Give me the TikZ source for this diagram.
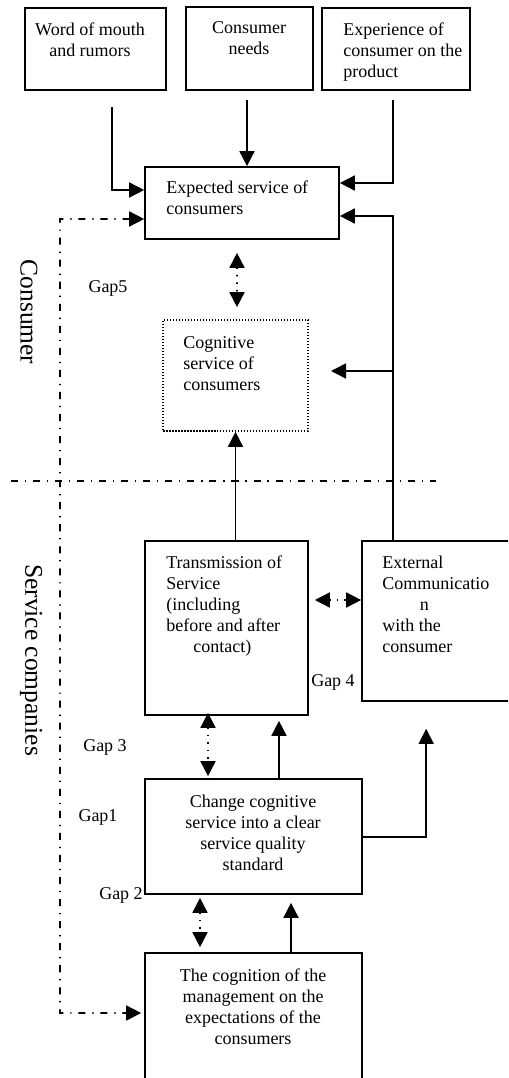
\documentclass[tikz,border=0pt]{standalone}
\usepackage{fontspec}
\setmainfont{Liberation Serif}
\usetikzlibrary{arrows.meta,fit,calc}
\begin{document}
\begin{tikzpicture}[x=0.6667pt,y=-0.6667pt,
  box/.style={draw, line width=1.1pt, inner sep=0pt},
  dotbox/.style={draw, line width=1.1pt, inner sep=0pt, dash pattern=on 1pt off 1pt},
  txt/.style={font=\fontsize{12}{14}\selectfont, inner sep=0pt},
  side/.style={font=\fontsize{17}{20}\selectfont, inner sep=0pt, rotate=-90},
  tip/.tip={Triangle[length=10pt,width=10pt]},
  conn/.style={line width=1.1pt, -tip},
  dbl/.style={line width=1.1pt, dash pattern=on 1pt off 4pt, tip-tip},
  dd/.style={line width=1.1pt, dash pattern=on 4.7pt off 4.6pt on 0.8pt off 4.6pt},
]
\fill[white] (0,0) rectangle (508,1078);
\useasboundingbox (0,0) rectangle (508,1078);
\clip (0,0) rectangle (508,1078);

% boxes
\node[box, fit={(25,8) (166,90)}] (wom) {};
\node[box, fit={(186,7) (313,90)}] (needs) {};
\node[box, fit={(322,8) (470,90)}] (expr) {};
\node[box, fit={(145,167) (339,239)}] (exp) {};
\node[dotbox, fit={(163,320) (308,431)}] (cog) {};
\node[box, fit={(145,541) (308,715)}] (trans) {};
\node[box, fit={(362,541) (540,701)}] (ext) {};
\node[box, fit={(145,779) (362,894)}] (chg) {};
\node[box, fit={(145,953) (362,1110)}] (mgmt) {};

% texts
\node[txt, anchor=north, align=center] (womT) at (90,20.3) {\strut Word of mouth\\and rumors};
\node[txt, anchor=north, align=center] (needsT) at (249,18.3) {\strut Consumer\\needs};
\node[txt, anchor=north west, align=left] (exprT) at (343,20.3) {\strut Experience of\\consumer on the\\product};
\node[txt, anchor=north west, align=left] (expT) at (166,178.3) {\strut Expected service of\\consumers};
\node[txt, anchor=north west, align=left] (cogT) at (183,333.3) {\strut Cognitive\\service of\\consumers};
\node[txt, anchor=north west, align=left] (transT) at (166,553.3) {\strut Transmission of\\Service\\(including\\before and after\\\hspace*{18pt}contact)};
\node[txt, anchor=north west, align=left] (extT) at (382,553.3) {\strut External\\Communicatio\\\hspace*{25pt}n\\with the\\consumer};
\node[txt, anchor=north, align=center] (chgT) at (253,792.3) {\strut Change cognitive\\service into a clear\\service quality\\standard};
\node[txt, anchor=north, align=center] (mgmtT) at (253,966.3) {\strut The cognition of the\\management on the\\expectations of the\\consumers};

% gap labels
\node[txt] (g5) at (108,288) {Gap5};
\node[txt] (g4) at (333,682) {Gap 4};
\node[txt] (g3) at (105,747) {Gap 3};
\node[txt] (g1) at (98,817) {Gap1};
\node[txt] (g2) at (121,895) {Gap 2};

% side labels
\node[side] (consL) at (29,312) {Consumer};
\node[side] (servL) at (31,660) {Service companies};

% divider
\coordinate (divL) at (11,481);
\coordinate (divR) at (436,481);
\draw[dd] (divL) -- (divR);

% connectors
\coordinate (womO) at (112,107);
\draw[conn] (womO) |- ($(exp.west)+(0,-13)$);
\coordinate (needsO) at (247,100);
\draw[conn] (needsO) -- (needsO |- exp.north);
\coordinate (exprO) at (393,100);
\draw[conn] (exprO) |- ($(exp.east)+(0,-20)$);
\coordinate (extO) at ($(ext.north west)+(32,0)$);
\draw[conn] (extO) |- ($(exp.east)+(0,13)$);
\coordinate (brS) at (394,371);
\coordinate (brE) at (331,371);
\draw[conn] (brS) -- (brE);
\draw[conn] (trans.north -| cog.south) -- (cog.south);

\draw[dbl] ($(exp.south)+(-5,13)$) -- ($(cog.north)+(1.5,-12)$);
\draw[dbl] ($(trans.east)+(6,-28)$) -- ($(ext.west)+(0,-21)$);
\draw[dbl] ($(trans.south)+(-18.5,-3)$) -- ($(chg.north)+(-45.5,-2)$);
\draw[conn] ($(chg.north)+(25.5,0)$) -- ($(trans.south)+(52.5,5)$);
\draw[conn] ($(chg.east)+(0,0.5)$) -| ($(ext.south west)+(65,27)$);
\draw[dbl] ($(chg.south)+(-53.5,3)$) -- ($(mgmt.north)+(-53.5,-5)$);
\draw[conn] ($(mgmt.north)+(37.5,0)$) -- ($(chg.south)+(37.5,8)$);

% feedback dash-dot
\coordinate (fbT) at (60,219);
\coordinate (fbB) at (60,1013);
\draw[dd, tip-tip] ($(exp.west)+(0,16)$) -- (fbT) -- (fbB) -- ($(mgmt.west)+(-3,-18.5)$);
\end{tikzpicture}
\end{document}
